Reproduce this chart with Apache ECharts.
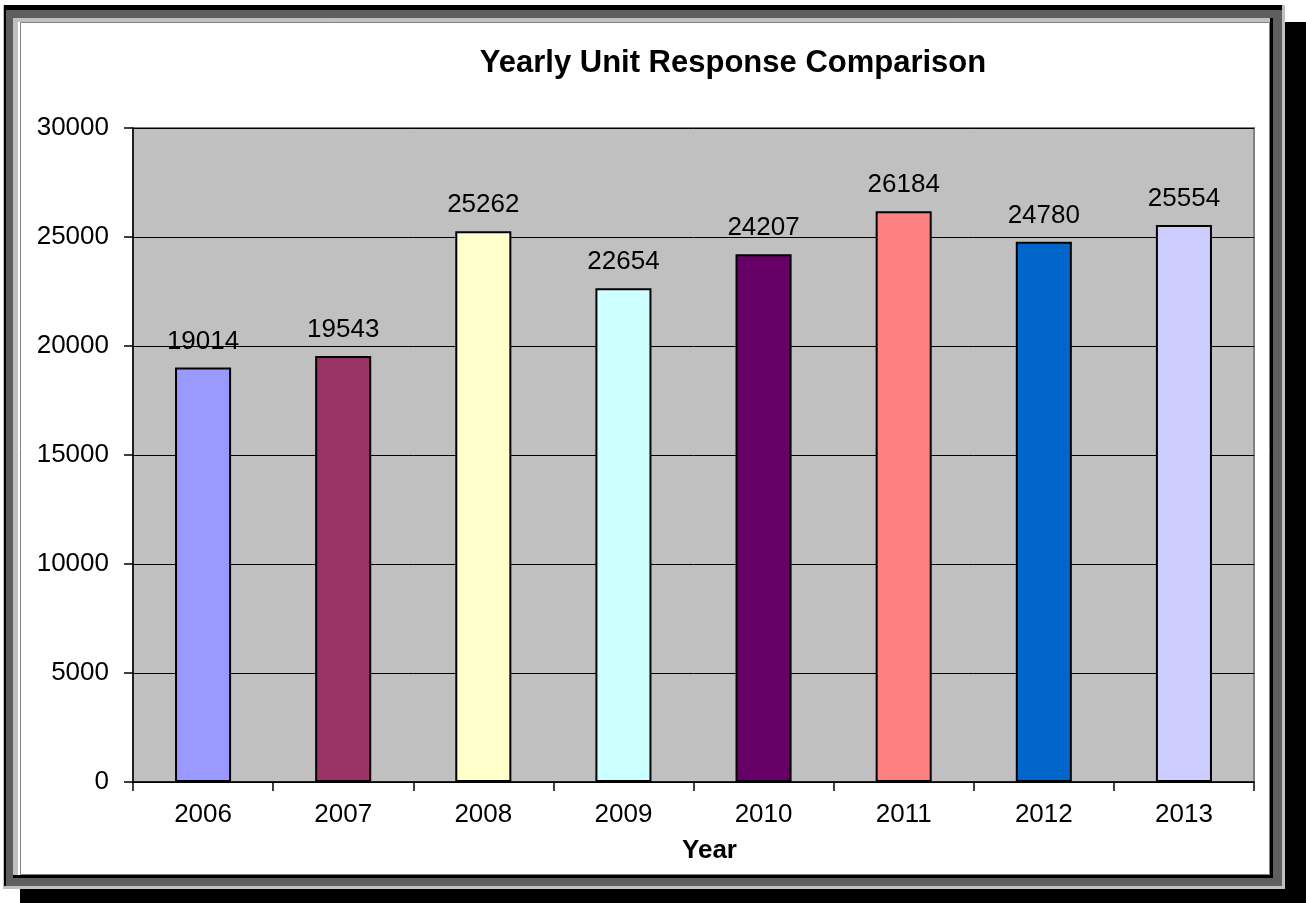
<!DOCTYPE html>
<html>
<head>
<meta charset="utf-8">
<script src="https://cdn.jsdelivr.net/npm/echarts@6/dist/echarts.min.js"></script>
<style>
html,body{margin:0;padding:0;background:#fff;}
#chart{width:1306px;height:903px;}
</style>
</head>
<body>
<div id="chart"></div>
<script>
const categories = ['2006','2007','2008','2009','2010','2011','2012','2013'];
const values = [19014, 19543, 25262, 22654, 24207, 26184, 24780, 25554];
const barColors = ['#9999FF','#993366','#FFFFCC','#CCFFFF','#660066','#FF8080','#0066CC','#CCCCFF'];
const yTicks = [0, 5000, 10000, 15000, 20000, 25000, 30000];

const chart = echarts.init(document.getElementById('chart'), null, {renderer:'canvas'});
const FONT = 'Liberation Sans, Arial, sans-serif';

const frame = [
  {type:'rect', shape:{x:20,y:22,width:1286,height:881}, style:{fill:'#000'}, z:-10, silent:true},
  {type:'rect', shape:{x:3,y:5,width:1282,height:884}, style:{fill:'#c0c0c0'}, z:-9, silent:true},
  {type:'rect', shape:{x:4,y:5,width:1278,height:881}, style:{fill:'#000'}, z:-8, silent:true},
  {type:'rect', shape:{x:6,y:10,width:1276,height:876}, style:{fill:'#5f5f5f'}, z:-7, silent:true},
  {type:'rect', shape:{x:13,y:18,width:1260,height:860}, style:{fill:'#000'}, z:-6, silent:true},
  {type:'rect', shape:{x:13,y:18,width:1257,height:857}, style:{fill:'#c0c0c0'}, z:-5, silent:true},
  {type:'rect', shape:{x:18,y:22,width:1252,height:853}, style:{fill:'#fff'}, z:-4, silent:true},
  {type:'rect', shape:{x:20.5,y:22.5,width:1249,height:852}, style:{fill:'#fff', stroke:'#808080', lineWidth:1}, z:-3, silent:true}
];

chart.setOption({
  animation:false,
  backgroundColor:'transparent',
  graphic: frame,
  title:{
    text:'Yearly Unit Response Comparison',
    left:728, top:43, textAlign:'center',
    textStyle:{fontFamily:FONT, fontSize:31, fontWeight:'bold', color:'#000'}
  },
  grid:{
    left:133, top:128, width:1121, height:654,
    show:true, backgroundColor:'#c0c0c0', borderColor:'#808080', borderWidth:2
  },
  xAxis:{
    type:'category',
    data:categories,
    name:'Year',
    nameLocation:'middle',
    nameGap:56,
    nameTextStyle:{fontFamily:FONT, fontSize:26, fontWeight:'bold', color:'#000', padding:[0,0,0,32]},
    axisLine:{lineStyle:{color:'#000', width:1.5}},
    axisTick:{show:true, alignWithLabel:false, length:9, lineStyle:{color:'#000', width:1.5}},
    axisLabel:{fontFamily:FONT, fontSize:26, color:'#000', margin:20}
  },
  yAxis:{
    type:'value',
    min:0, max:30000, interval:5000,
    axisLine:{show:true, lineStyle:{color:'#000', width:1.5}},
    axisTick:{show:true, length:9, lineStyle:{color:'#000', width:1.5}},
    axisLabel:{fontFamily:FONT, fontSize:26, color:'#000', margin:24,
      formatter:function(v){ return yTicks.indexOf(v) >= 0 ? String(v) : ''; }},
    splitLine:{show:true, lineStyle:{color:'#000', width:1}}
  },
  series:[{
    type:'bar',
    data: values.map((v,i)=>({value:v, itemStyle:{color:barColors[i]}})),
    barWidth:'40%',
    itemStyle:{borderColor:'#000', borderWidth:2},
    label:{show:true, position:'top', distance:13,
      fontFamily:FONT, fontSize:26, color:'#000'}
  }]
});
</script>
</body>
</html>
